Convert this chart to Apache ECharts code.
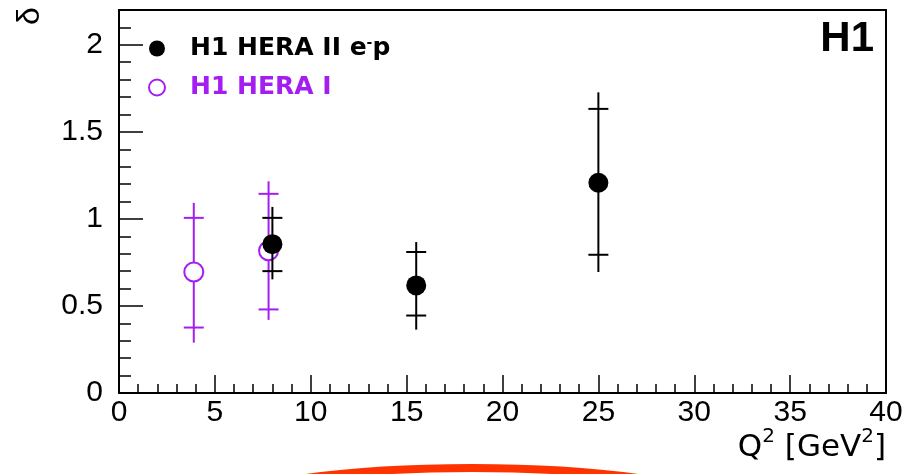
<!DOCTYPE html>
<html>
<head>
<meta charset="utf-8">
<script src="https://cdn.jsdelivr.net/npm/echarts@6/dist/echarts.min.js"></script>
<style>
  html, body { margin: 0; padding: 0; background: #fff; }
  #chart { width: 911px; height: 474px; }
</style>
</head>
<body>
<div id="chart"></div>
<script>
// H1 HERA II e-p (black, filled)
const hera2X = [8, 15.5, 25];
const hera2Y = [0.855, 0.618, 1.208];
const hera2StatLo = [0.70, 0.445, 0.794];
const hera2StatHi = [1.006, 0.81, 1.632];
const hera2TotLo = [0.653, 0.364, 0.695];
const hera2TotHi = [1.069, 0.867, 1.727];

// H1 HERA I (purple, open)
const hera1X = [3.9, 7.8];
const hera1Y = [0.695, 0.817];
const hera1StatLo = [0.376, 0.48];
const hera1StatHi = [1.006, 1.144];
const hera1TotLo = [0.289, 0.42];
const hera1TotHi = [1.092, 1.216];

const FONT = '"Liberation Sans", Arial, sans-serif';
const WIDE = '"DejaVu Sans", sans-serif';
const PURPLE = '#a41ef2';

function rows(xs, ys, sLo, sHi, tLo, tHi) {
    return xs.map((x, i) => [x, ys[i], sLo[i], sHi[i], tLo[i], tHi[i]]);
}

function errorBars(color) {
    return function (params, api) {
        const x = api.value(0);
        const lo = api.coord([x, api.value(4)]);
        const hi = api.coord([x, api.value(5)]);
        const sLo = api.coord([x, api.value(2)]);
        const sHi = api.coord([x, api.value(3)]);
        const w = 10;
        const style = { stroke: color, lineWidth: 2 };
        return {
            type: 'group',
            children: [
                { type: 'line', shape: { x1: lo[0], y1: lo[1], x2: hi[0], y2: hi[1] }, style },
                { type: 'line', shape: { x1: sLo[0] - w, y1: sLo[1], x2: sLo[0] + w, y2: sLo[1] }, style },
                { type: 'line', shape: { x1: sHi[0] - w, y1: sHi[1], x2: sHi[0] + w, y2: sHi[1] }, style }
            ]
        };
    };
}

const chart = echarts.init(document.getElementById('chart'));

chart.setOption({
    animation: false,
    backgroundColor: '#fff',
    grid: {
        left: 119, right: 25, top: 10, bottom: 81,
        containLabel: false, outerBoundsMode: 'none',
        show: true, borderColor: '#000', borderWidth: 2
    },
    xAxis: {
        type: 'value', min: 0, max: 40, interval: 5,
        name: '{b|Q}{sup|2}{b| [GeV}{sup|2}{b|]}',
        nameLocation: 'end',
        nameGap: 0,
        nameMoveOverlap: false,
        nameTextStyle: {
            align: 'right', verticalAlign: 'top',
            padding: [34, 0, 0, 0],
            fontFamily: WIDE, fontSize: 31, color: '#000',
            rich: {
                b: { fontFamily: WIDE, fontSize: 31, lineHeight: 42, color: '#000' },
                sup: { fontFamily: WIDE, fontSize: 20, lineHeight: 22, verticalAlign: 'top', color: '#000' }
            }
        },
        axisLine: { onZero: false, lineStyle: { color: '#000', width: 2 } },
        axisTick: { inside: true, length: 18, lineStyle: { color: '#000', width: 1.5 } },
        minorTick: { show: true, splitNumber: 5, length: 9, lineStyle: { color: '#000', width: 1.5 } },
        splitLine: { show: false },
        axisLabel: { fontFamily: FONT, fontSize: 30, color: '#000', margin: 5 }
    },
    yAxis: [
        {
            type: 'value', min: 0, max: 2.2, interval: 0.5,
            axisLine: { onZero: false, lineStyle: { color: '#000', width: 2 } },
            axisTick: { inside: true, length: 24, lineStyle: { color: '#000', width: 1.5 } },
            splitLine: { show: false },
            axisLabel: { fontFamily: FONT, fontSize: 30, color: '#000', margin: 16, showMaxLabel: false }
        },
        {
            type: 'value', min: 0, max: 2.2, interval: 0.1, position: 'left',
            axisLine: { show: false },
            axisTick: { inside: true, length: 12, lineStyle: { color: '#000', width: 1.5 } },
            splitLine: { show: false },
            axisLabel: { show: false }
        }
    ],
    legend: {
        orient: 'vertical',
        left: 143, top: 31,
        itemGap: 14,
        itemWidth: 16, itemHeight: 16,
        textStyle: {
            fontFamily: WIDE, fontSize: 25, fontWeight: 'bold', padding: [0, 0, 0, 20],
            rich: { sup: { fontSize: 14, fontWeight: 'bold', verticalAlign: 'top', color: '#000', fontFamily: WIDE } }
        },
        formatter: function (name) {
            return name === 'H1 HERA II e-p' ? 'H1 HERA II e{sup|-}p' : name;
        },
        data: [
            { name: 'H1 HERA II e-p', textStyle: { color: '#000' } },
            { name: 'H1 HERA I', textStyle: { color: PURPLE } }
        ]
    },
    graphic: [
        {
            type: 'text', right: 37, top: 18,
            style: { text: 'H1', font: 'bold 42px ' + FONT, fill: '#000' }
        },
        {
            type: 'text', x: 30, y: 16, rotation: Math.PI / 2,
            style: { text: 'δ', font: '32px ' + FONT, fill: '#000', align: 'center', verticalAlign: 'middle' }
        },
        {
            type: 'ellipse', z: 100,
            shape: { cx: 472, cy: 512, rx: 261, ry: 44 },
            style: { fill: 'none', stroke: '#ff3300', lineWidth: 8 }
        }
    ],
    series: [
        {
            name: 'HERA I errors', type: 'custom', renderItem: errorBars(PURPLE),
            data: rows(hera1X, hera1Y, hera1StatLo, hera1StatHi, hera1TotLo, hera1TotHi),
            z: 2
        },
        {
            name: 'H1 HERA I', type: 'scatter', symbol: 'emptyCircle', symbolSize: 19,
            itemStyle: { color: PURPLE, borderColor: PURPLE, borderWidth: 2, opacity: 1 },
            data: hera1X.map((x, i) => [x, hera1Y[i]]),
            z: 3
        },
        {
            name: 'HERA II errors', type: 'custom', renderItem: errorBars('#000'),
            data: rows(hera2X, hera2Y, hera2StatLo, hera2StatHi, hera2TotLo, hera2TotHi),
            z: 4
        },
        {
            name: 'H1 HERA II e-p', type: 'scatter', symbol: 'circle', symbolSize: 20,
            itemStyle: { color: '#000', opacity: 1 },
            data: hera2X.map((x, i) => [x, hera2Y[i]]),
            z: 5
        }
    ]
});
</script>
</body>
</html>
